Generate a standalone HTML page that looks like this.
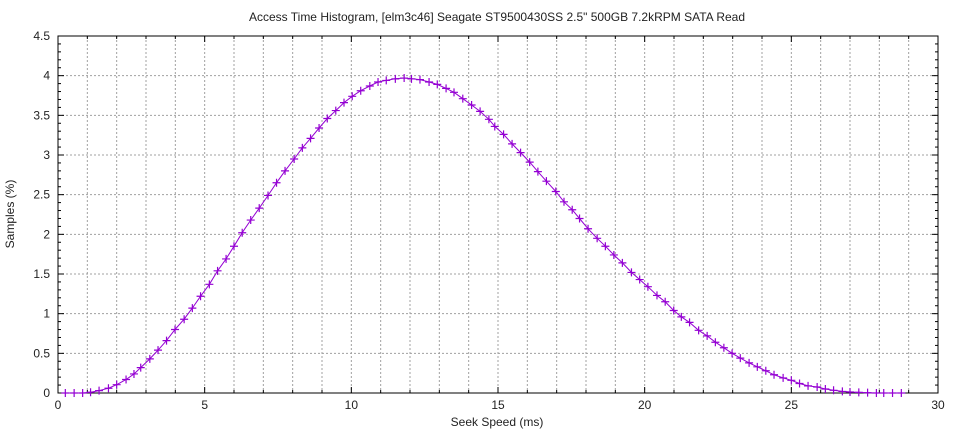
<!DOCTYPE html>
<html><head><meta charset="utf-8"><style>
body{margin:0;background:#fff}
svg{display:block;font-family:"Liberation Sans",sans-serif}
</style></head><body>
<svg id="s" width="960" height="432" xmlns="http://www.w3.org/2000/svg">
<rect width="960" height="432" fill="#fff"/>
<text x="497" y="21" font-size="12" text-anchor="middle" fill="#222">Access Time Histogram, [elm3c46] Seagate ST9500430SS 2.5" 500GB 7.2kRPM SATA Read</text>
<text x="497" y="426" font-size="12" text-anchor="middle" fill="#222">Seek Speed (ms)</text>
<text transform="translate(14,214) rotate(-90)" font-size="12" text-anchor="middle" fill="#222">Samples (%)</text>
<g id="g"></g>
</svg>
<script>
var L=58,R=938,T=36,B=393;
function X(v){return L+v*(R-L)/30}
function Y(v){return B-v*(B-T)/4.5}
var h='';
for(var i=1;i<30;i++){var x=X(i);h+='<line x1="'+x+'" y1="'+T+'" x2="'+x+'" y2="'+B+'" stroke="#a0a0a0" stroke-dasharray="2,2"/>';}
for(var j=1;j<9;j++){var y=Y(j*0.5);h+='<line x1="'+L+'" y1="'+y+'" x2="'+R+'" y2="'+y+'" stroke="#a0a0a0" stroke-dasharray="2,2"/>';}
for(var i=0;i<=30;i++){var x=X(i),len=(i%5==0)?6:3;h+='<line x1="'+x+'" y1="'+B+'" x2="'+x+'" y2="'+(B-len)+'" stroke="#000"/><line x1="'+x+'" y1="'+T+'" x2="'+x+'" y2="'+(T+len)+'" stroke="#000"/>';
 if(i%5==0)h+='<text x="'+x+'" y="409" font-size="12" text-anchor="middle" fill="#222">'+i+'</text>';}
for(var j=0;j<=45;j++){var y=Y(j*0.1),len=(j%5==0)?6:3;h+='<line x1="'+L+'" y1="'+y+'" x2="'+(L+len)+'" y2="'+y+'" stroke="#000"/><line x1="'+R+'" y1="'+y+'" x2="'+(R-len)+'" y2="'+y+'" stroke="#000"/>';
 if(j%5==0)h+='<text x="50" y="'+(y+4)+'" font-size="12" text-anchor="end" fill="#222">'+(j/10)+'</text>';}
h+='<rect x="'+L+'" y="'+T+'" width="'+(R-L)+'" height="'+(B-T)+'" fill="none" stroke="#000"/>';
var d=[[0.25,0],[0.55,0],[0.84,0],[1.11,.01],[1.4,.03],[1.72,.06],[2.0,.105],[2.32,.17],[2.59,.24],[2.82,.32],[3.13,.43],[3.41,.54],[3.70,.66],[3.99,.80],[4.30,.93],[4.58,1.07],[4.86,1.22],[5.16,1.37],[5.44,1.54],[5.73,1.69],[6.0,1.85],[6.28,2.02],[6.57,2.18],[6.86,2.33],[7.16,2.49],[7.45,2.65],[7.74,2.80],[8.05,2.95],[8.33,3.09],[8.61,3.21],[8.90,3.34],[9.18,3.46],[9.47,3.56],[9.75,3.66],[10.03,3.74],[10.32,3.81],[10.63,3.87],[10.91,3.92],[11.19,3.94],[11.5,3.96],[11.8,3.97],[12.05,3.96],[12.34,3.95],[12.65,3.92],[12.93,3.89],[13.23,3.84],[13.5,3.79],[13.8,3.71],[14.1,3.63],[14.39,3.55],[14.69,3.45],[14.89,3.36],[15.19,3.26],[15.48,3.14],[15.77,3.03],[16.08,2.91],[16.36,2.79],[16.65,2.67],[16.97,2.54],[17.25,2.41],[17.53,2.31],[17.78,2.20],[18.07,2.07],[18.38,1.95],[18.66,1.85],[18.95,1.74],[19.24,1.64],[19.55,1.52],[19.83,1.43],[20.11,1.34],[20.42,1.23],[20.70,1.15],[20.99,1.04],[21.25,.96],[21.53,.89],[21.84,.79],[22.13,.72],[22.41,.64],[22.7,.57],[22.98,.50],[23.26,.44],[23.56,.38],[23.84,.33],[24.13,.28],[24.41,.23],[24.72,.19],[25.0,.16],[25.28,.12],[25.57,.09],[25.88,.076],[26.16,.05],[26.44,.034],[26.74,.02],[27.0,.013],[27.3,.008],[27.6,.004],[27.9,0],[28.15,0],[28.45,0],[28.75,0]];
var p=d.map(function(a){return X(a[0]).toFixed(1)+','+Y(a[1]).toFixed(1)}).join(' ');
h+='<polyline points="'+p+'" fill="none" stroke="#9400d3" stroke-width="1"/>';
d.forEach(function(a){var x=X(a[0]),y=Y(a[1]);h+='<path d="M'+(x-4)+' '+y+'h8M'+x+' '+(y-4)+'v8" stroke="#9400d3" stroke-width="1.2"/>';});
document.getElementById('g').innerHTML=h;
</script>
</body></html>
